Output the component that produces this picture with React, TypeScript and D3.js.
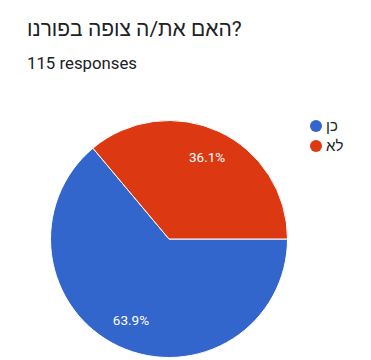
import React from "react";
import * as d3 from "d3";

const title = "האם את/ה צופה בפורנו?";
const subtitle = "115 responses";
const categories = ["כן", "לא"];
const values = [63.9, 36.1];
const colors = ["#3366cc", "#dc3912"];

const W = 371;
const H = 360;
const cx = 169;
const cy = 239;
const R = 118.5;

export default function App() {
  const pie = d3
    .pie<number>()
    .sort(null)
    .startAngle(Math.PI / 2)
    .endAngle(Math.PI / 2 + 2 * Math.PI)(values);
  const arc = d3.arc<d3.PieArcDatum<number>>().innerRadius(0).outerRadius(R);
  const labelArc = d3
    .arc<d3.PieArcDatum<number>>()
    .innerRadius(R * 0.76)
    .outerRadius(R * 0.76);
  const font = "Roboto, 'Liberation Sans', Arimo, sans-serif";
  return (
    <div style={{ position: "absolute", left: 0, top: 0 }}>
      <svg width={W} height={H} style={{ display: "block", background: "#fff" }}>
        <text x={27} y={36} fontFamily={font} fontSize={21} fill="#202124">
          {title}
        </text>
        <text x={27} y={69} fontFamily={font} fontSize={16.8} fill="#202124">
          {subtitle}
        </text>
        <g transform={`translate(${cx},${cy})`}>
          {pie.map((d, i) => (
            <path key={i} d={arc(d) || ""} fill={colors[i]} stroke="#fff" strokeWidth={1} />
          ))}
          {pie.map((d, i) => {
            const [x, y] = labelArc.centroid(d);
            return (
              <text
                key={"l" + i}
                x={x}
                y={y}
                dy="0.35em"
                textAnchor="middle"
                fontFamily={font}
                fontSize={13.5}
                fill="#fff"
              >
                {values[i].toFixed(1) + "%"}
              </text>
            );
          })}
        </g>
        {categories.map((c, i) => (
          <g key={"lg" + i} transform={`translate(316,${126 + i * 20})`}>
            <circle r={6} fill={colors[i]} />
            <text x={10} y={0} dy="0.35em" fontFamily={font} fontSize={15} fill="#222">
              {c}
            </text>
          </g>
        ))}
      </svg>
    </div>
  );
}
